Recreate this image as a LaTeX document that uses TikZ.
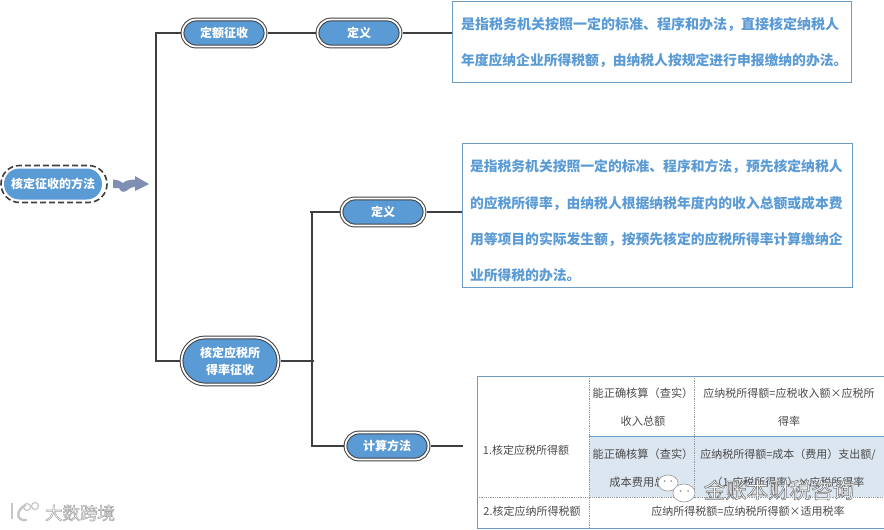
\documentclass[tikz,border=0pt]{standalone}
\usepackage{fontspec}
\setmainfont{Noto Sans CJK SC}
\usetikzlibrary{shapes.misc, positioning}
\definecolor{pillblue}{HTML}{5B9BD5}
\definecolor{pilledge}{HTML}{3F3F42}
\definecolor{boxedge}{HTML}{6C9CC6}
\definecolor{cellblue}{HTML}{DCE6F1}
\definecolor{cellink}{HTML}{4A4A4A}
\definecolor{tabledge}{HTML}{8F9AA3}
\definecolor{wavefill}{HTML}{7F8FB3}
\newcommand{\outlined}[2]{\special{pdf:code q 2 Tr 0.55 w #1 G}#2\special{pdf:code Q}}
\tikzset{
  pill/.style={rounded rectangle, fill=pillblue, draw=pilledge, double=white, double distance=1.8pt, line width=1pt,
    text=white, font=\fontsize{12}{17}\selectfont\bfseries, align=center, inner sep=0pt, outer sep=2pt,
    minimum width=83pt, minimum height=27pt},
  link/.style={draw=pilledge, line width=1.4pt},
  note/.style={draw=boxedge, line width=0.9pt, text=pillblue, inner sep=0pt, align=left, font=\bfseries},
  cell/.style={text=cellink, font=\fontsize{11.2}{28}\selectfont, align=center, inner sep=0pt},
  wide cell/.style={cell, font=\fontsize{11}{28}\selectfont},
  wmark/.style={text=white, inner sep=0pt}
}
\begin{document}
\begin{tikzpicture}[x=1pt, y=-1pt]
  \useasboundingbox (0,0) rectangle (884,530);

  % Root and the wavy arrow
  \node[rounded rectangle, fill=pillblue, text=white, font=\fontsize{12}{14}\selectfont\bfseries, inner sep=0pt,
    minimum width=98pt, minimum height=31pt] (rootbox) at (53,184) {核定征收的方法};
  \node[rounded rectangle, draw=pilledge, line width=1.6pt, dash pattern=on 6pt off 3pt, inner sep=0pt,
    minimum width=106pt, minimum height=37pt] (rootring) at (54,184) {};
  \fill[wavefill] (113,179.5) .. controls (118,180) and (121,181) .. (123,183)
    .. controls (126,180) and (130,180) .. (135,179.5) -- (135,176) -- (149,184) -- (135,191) -- (135,187)
    .. controls (131,187) and (129,189) .. (126,191) .. controls (123,193) and (120,191) .. (119,188)
    -- (113,188) -- cycle;

  % Branch nodes
  \node[pill] (fixedbox) at (224,33) {定额征收};
  \node[pill] (fixeddef) at (359,33) {定义};
  \node[pill, minimum width=97pt, minimum height=47pt] (ratebox) at (230,361) {核定应税所\\得率征收};
  \node[pill] (ratedef) at (383,212) {定义};
  \node[pill] (ratecalc) at (387,446) {计算方法};

  % Text boxes
  \node[note, minimum width=399pt, minimum height=81pt, text width=381pt, font=\fontsize{13.8}{36}\selectfont\bfseries] (fixednote) at (651.5,41.5)
    {\rule{0pt}{14pt}{\fontsize{14}{36}\selectfont 是指税务机关按照一定的标准、程序和办法，直接核定纳税人}\\年度应纳企业所得税额，由纳税人按规定进行申报缴纳的办法。};
  \node[note, minimum width=390pt, minimum height=144pt, text width=374pt, font=\fontsize{13.8}{36.3}\selectfont\bfseries] (ratenote) at (657,215)
    {\rule{0pt}{24pt}是指税务机关按照一定的标准、程序和方法，预先核定纳税人\\的应税所得率，由纳税人根据纳税年度内的收入总额或成本费\\用等项目的实际发生额，按预先核定的应税所得率计算缴纳企\\业所得税的办法。};

  % Table
  \fill[cellblue] (589,436) rectangle (884,497);
  \draw[tabledge, line width=0.8pt, densely dotted] (589,376) -- (589,528);
  \draw[tabledge, line width=0.8pt, densely dotted] (694,376) -- (694,497);
  \draw[tabledge, line width=0.8pt, densely dotted] (477,497) -- (884,497);
  \draw[boxedge, line width=0.8pt] (589,436) -- (884,436);
  \draw[boxedge, line width=0.8pt] (477,528) -- (477,376) -- (884,376);
  \draw[boxedge, line width=0.8pt] (477,528) -- (884,528);
  \coordinate (tablein) at (463,446);
  \node[wide cell] (cellA) at (526,450) {1.核定应税所得额};
  \node[cell] (cellB) at (643,407) {能正确核算（查实）\\收入总额};
  \node[wide cell] (cellC) at (789,407) {应纳税所得额=应税收入额×应税所\\得率};
  \node[cell] (cellD) at (643,468) {能正确核算（查实）\\成本费用总额};
  \node[wide cell] (cellE) at (788,468) {应纳税所得额=成本（费用）支出额/\\（1-应税所得率）×应税所得率};
  \node[wide cell] (cellF) at (532,511) {2.核定应纳所得税额};
  \node[wide cell] (cellG) at (748,511) {应纳所得税额=应纳税所得额×适用税率};

  % Connectors
  \coordinate (trunkA) at (156,184);
  \coordinate (trunkB) at (312,300);
  \draw[link] (fixedbox.west) -- (fixedbox.west -| trunkA) -- (ratebox.west -| trunkA) -- (ratebox.west);
  \draw[link] (fixedbox.east) -- (fixeddef.west);
  \draw[link] (fixeddef.east) -- (fixeddef.east -| fixednote.west);
  \draw[link] ([xshift=-2pt]ratedef.west -| trunkB) -- (ratedef.west);
  \draw[link] (ratedef.west -| trunkB) -- (ratecalc.west -| trunkB) -- (ratecalc.west);
  \draw[link] (ratebox.east) -- ([xshift=2pt]ratebox.east -| trunkB);
  \draw[link] (ratedef.east) -- (ratedef.east -| ratenote.west);
  \draw[link] (ratecalc.east) -- (tablein);

  % Watermarks
  \fill[white, draw=gray!80, line width=0.6pt] (668,483) ellipse (10 and 8);
  \fill[white, draw=gray!80, line width=0.6pt] (684,493) ellipse (11 and 9);
  \foreach \d in {664.5, 671} {
    \fill[gray!80] (\d,481) circle (1);
  }
  \foreach \d in {680.5, 688} {
    \fill[gray!80] (\d,491) circle (1);
  }
  \node[wmark, font=\fontsize{21.5}{22}\selectfont] (goldmark) at (779,490) {\outlined{0.45}{金账本财税咨询}};
  \node[wmark, font=\fontsize{17.5}{18}\selectfont] (bigmark) at (80,513) {\outlined{0.65}{大数跨境}};
  \draw[gray!45, line width=2.4pt] (12,503) -- (12,519);
  \draw[gray!45, line width=2.4pt] (26,505) .. controls (16,509) and (15,522) .. (27,520);
  \draw[gray!45, line width=1.2pt] (27,507) circle (3.5);
  \draw[gray!45, line width=1.2pt] (35,506) circle (3.5);
\end{tikzpicture}
\end{document}
